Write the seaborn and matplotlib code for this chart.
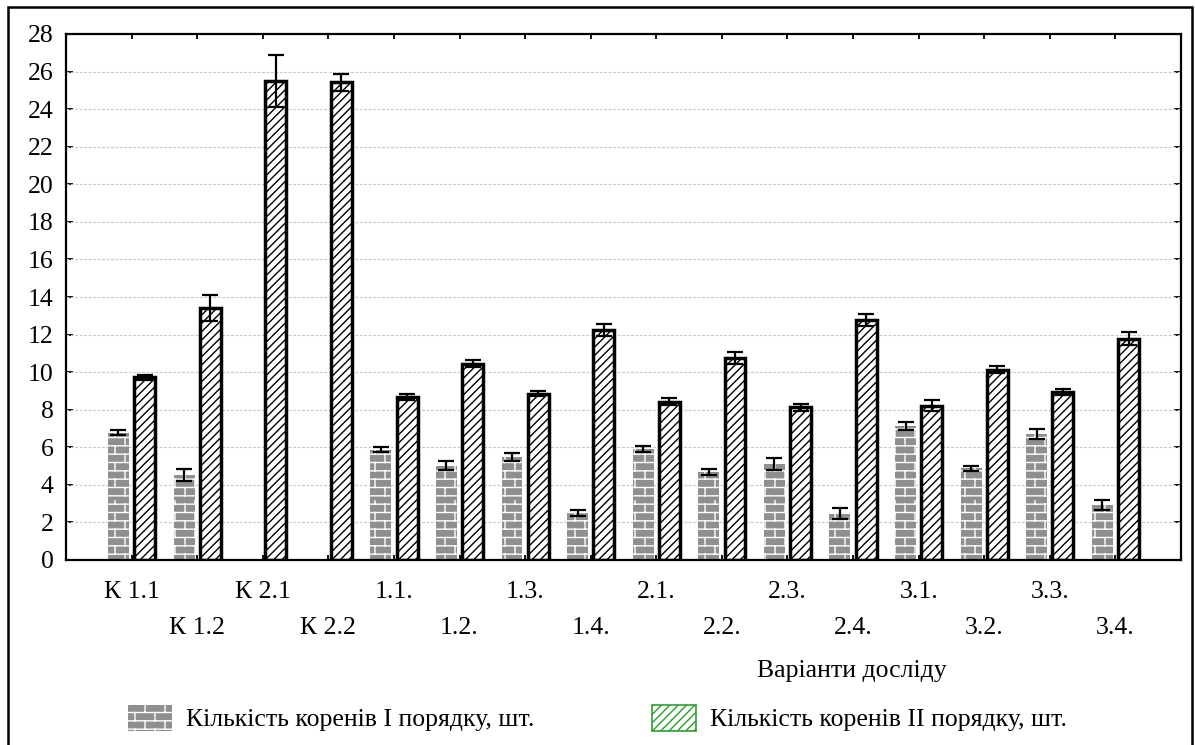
import warnings
warnings.filterwarnings("ignore")
import numpy as np
import pandas as pd
import matplotlib
matplotlib.use("Agg")
import matplotlib.pyplot as plt
from matplotlib import hatch as mhatch
from matplotlib.path import Path
from matplotlib.patches import Patch, Rectangle
import seaborn as sns

# ---------------- data ----------------
variants = ["К 1.1", "К 1.2", "К 2.1", "К 2.2", "1.1.", "1.2.", "1.3.", "1.4.",
            "2.1.", "2.2.", "2.3.", "2.4.", "3.1.", "3.2.", "3.3.", "3.4."]
roots_1 = [6.78, 4.54, 0.0, 0.0, 5.88, 5.03, 5.47, 2.50,
           5.92, 4.69, 5.12, 2.46, 7.14, 4.88, 6.70, 2.95]
roots_1_err = [0.12, 0.31, 0.0, 0.0, 0.12, 0.24, 0.20, 0.14,
               0.17, 0.15, 0.33, 0.29, 0.22, 0.13, 0.27, 0.27]
roots_2 = [9.73, 13.40, 25.52, 25.42, 8.68, 10.46, 8.86, 12.26,
           8.43, 10.75, 8.13, 12.79, 8.21, 10.14, 8.93, 11.79]
roots_2_err = [0.13, 0.70, 1.38, 0.45, 0.15, 0.20, 0.13, 0.32,
               0.20, 0.30, 0.20, 0.31, 0.30, 0.20, 0.17, 0.34]
series = ["Кількість коренів І порядку, шт.", "Кількість коренів ІІ порядку, шт."]
x_title = "Варіанти досліду"
y_ticks = list(range(0, 29, 2))


# ------------- custom brick hatch -------------
class BrickHatch(mhatch.HatchPatternBase):
    def __init__(self, hatch, density):
        n = hatch.count('b')
        self.rows = 12 * n
        self.cols = 5 * n
        self.num_vertices = (self.rows + self.rows * self.cols) * 2 if n else 0

    def set_vertices_and_codes(self, vertices, codes):
        verts = []
        h = 1.0 / self.rows
        w = 1.0 / self.cols
        for r in range(self.rows):
            y0 = (r + 0.5) * h
            verts += [(0.0, y0), (1.0, y0)]
            off = w / 4 + (r % 2) * w / 2
            for c in range(self.cols):
                x = off + c * w
                verts += [(x, y0), (x, y0 + h)]
        vertices[:] = np.array(verts)
        codes[0::2] = Path.MOVETO
        codes[1::2] = Path.LINETO


mhatch._hatch_types.append(BrickHatch)

# ---------------- style ----------------
sns.set_theme(style="white")
plt.rcParams["font.family"] = ["Liberation Serif", "DejaVu Serif"]
plt.rcParams["hatch.linewidth"] = 1.0
plt.rcParams["text.color"] = "black"
plt.rcParams["axes.labelcolor"] = "black"
FS = 18.5

df = pd.DataFrame({
    "variant": variants * 2,
    "series": [series[0]] * len(variants) + [series[1]] * len(variants),
    "value": roots_1 + roots_2,
})

fig = plt.figure(figsize=(11.95, 7.45), dpi=100)
ax = fig.add_axes([66 / 1195, 1 - 560 / 745, (1181 - 66) / 1195, 526 / 745])

sns.barplot(data=df, x="variant", y="value", hue="series", hue_order=series,
            order=variants, palette={series[0]: "#8f8f8f", series[1]: "white"},
            errorbar=None, width=0.8, gap=0.2, legend=False, ax=ax, zorder=2)

c1, c2 = ax.containers[0], ax.containers[1]
for bar in c1:
    bar.set_hatch("b")
    if bar.get_height() == 0:
        bar.set_edgecolor("#303030")
        bar.set_linewidth(2.0)
        bar.set_hatch(None)
    else:
        bar.set_edgecolor("white")
        bar.set_linewidth(0)
for bar in c2:
    bar.set_hatch("////")
    bar.set_edgecolor("black")
    bar.set_linewidth(2.5)

for cont, err in ((c1, roots_1_err), (c2, roots_2_err)):
    xs = [b.get_x() + b.get_width() / 2 for b in cont]
    ys = [b.get_height() for b in cont]
    xs_f = [x for x, e in zip(xs, err) if e > 0]
    ys_f = [y for y, e in zip(ys, err) if e > 0]
    es_f = [e for e in err if e > 0]
    ax.errorbar(xs_f, ys_f, yerr=es_f, fmt="none", ecolor="black",
                elinewidth=1.6, capsize=5.5, capthick=1.6, zorder=4)

ax.set_xlim(-1, len(variants))
ax.set_ylim(0, 28)
ax.set_yticks(y_ticks)
ax.set_yticklabels([str(t) for t in y_ticks], fontsize=FS)
ax.set_xticks(range(len(variants)))
ax.set_xticklabels([v if i % 2 == 0 else "\n" + v for i, v in enumerate(variants)],
                   fontsize=FS)
for lab in ax.get_xticklabels():
    lab.set_linespacing(1.85)
ax.set_xlabel(x_title, fontsize=FS, color="black")
ax.xaxis.set_label_coords(0.705, -0.19)
ax.set_ylabel("")

for yv in y_ticks[1:-1]:
    ax.axhline(yv, color="#c8c8c8", lw=0.8, ls=(0, (2.5, 1.5)), zorder=1)

ax.tick_params(axis="both", direction="in", colors="black", labelcolor="black")
ax.tick_params(axis="y", left=True, right=True, length=5, width=1.3, pad=9)
ax.tick_params(axis="x", bottom=True, top=True, length=3.5, width=1.3, pad=15)
for sp in ax.spines.values():
    sp.set_color("black")
    sp.set_linewidth(1.6)
    sp.set_visible(True)

handles = [Patch(facecolor="#8f8f8f", edgecolor="white", hatch="b", linewidth=0),
           Patch(facecolor="white", edgecolor="#2ca02c", hatch="////", linewidth=1.2)]
fig.legend(handles, series, loc="center", bbox_to_anchor=(0.5, 1 - 718 / 745),
           ncol=2, frameon=False, fontsize=FS, handlelength=1.7, handleheight=1.2,
           columnspacing=4.6, handletextpad=0.55, labelcolor="black")

fig.patches.append(Rectangle((8 / 1195, -0.02), 1184 / 1195, 1.02 - 7 / 745,
                             transform=fig.transFigure, fill=False,
                             edgecolor="black", linewidth=1.8))

fig.savefig("out.png", dpi=100)
